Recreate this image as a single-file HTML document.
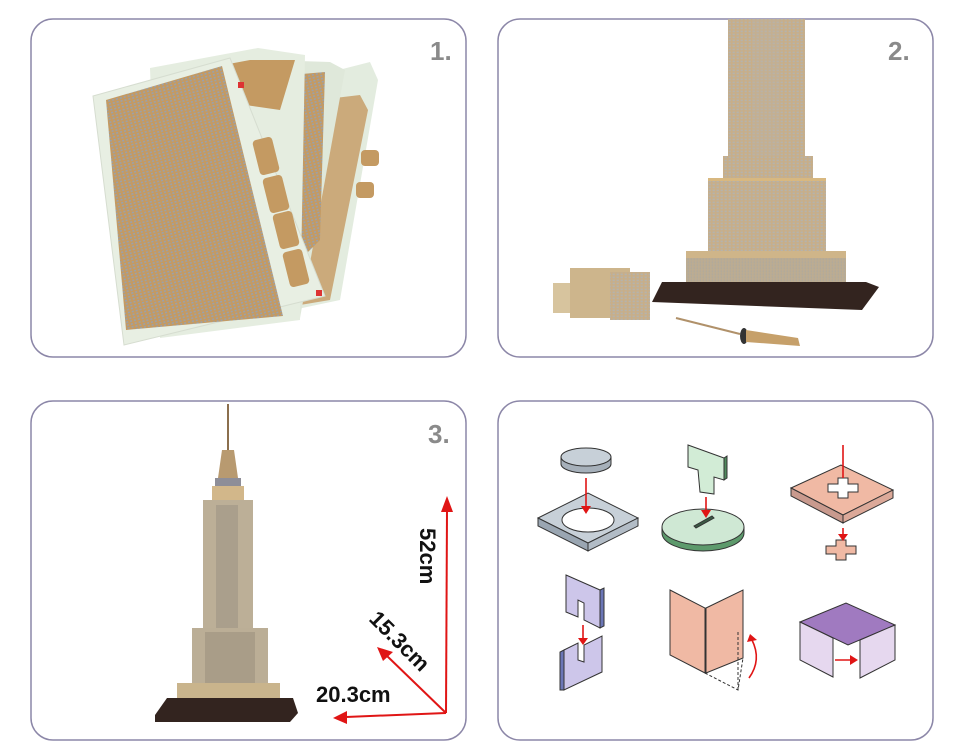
<!DOCTYPE html>
<html><head><meta charset="utf-8"><style>
html,body{margin:0;padding:0;background:#fff;}
svg{display:block;}
text{font-family:"Liberation Sans",sans-serif;font-weight:bold;}
</style></head><body>
<svg width="956" height="756" viewBox="0 0 956 756" xmlns="http://www.w3.org/2000/svg">
<defs>
<pattern id="win" width="4" height="3" patternUnits="userSpaceOnUse" patternTransform="rotate(-14)">
<rect width="4" height="3" fill="#c49a62"/><rect x="0.5" y="0.5" width="2" height="1.6" fill="#9aa1ab"/>
</pattern>
<pattern id="twr" width="4" height="3" patternUnits="userSpaceOnUse">
<rect width="4" height="3" fill="#c8ae88"/><rect x="0.6" y="0.6" width="2.2" height="1.6" fill="#b5b3ad"/>
</pattern>
<pattern id="twr2" width="3" height="3" patternUnits="userSpaceOnUse">
<rect width="3" height="3" fill="#b9aa92"/><rect x="0.6" y="0.3" width="1.6" height="2.2" fill="#aaa79f"/>
</pattern>
</defs>
<g fill="#fff" stroke="#8c87a8" stroke-width="1.5">
<rect x="31" y="19" width="435" height="338" rx="22"/>
<rect x="498" y="19" width="435" height="338" rx="22"/>
<rect x="31" y="401" width="435" height="339" rx="22"/>
<rect x="498" y="401" width="435" height="339" rx="22"/>
</g>
<text x="430" y="60" font-size="26" fill="#8a8a8a">1.</text>
<text x="888" y="60" font-size="26" fill="#8a8a8a">2.</text>
<text x="428" y="443" font-size="26" fill="#8a8a8a">3.</text>

<!-- panel 1 sheets -->
<polygon points="276,86 370,62 378,80 340,300 255,318" fill="#e3ecdf"/>
<polygon points="318,100 360,95 368,110 330,300 300,305" fill="#c49a62" opacity="0.8"/>
<polygon points="268,60 330,62 345,70 300,318 248,322" fill="#dfe8da"/>
<polygon points="290,75 325,72 320,240 290,270" fill="url(#win)"/>
<polygon points="150,68 258,48 305,55 300,320 160,338" fill="#e5ede0"/>
<polygon points="170,75 250,60 295,60 280,110 175,95" fill="#c49a62"/>
<polygon points="93,96 230,58 325,296 124,345" fill="#e8efe3" stroke="#d6ddd0" stroke-width="1"/>
<polygon points="106,100 222,66 283,316 126,330" fill="url(#win)"/>
<g fill="#c49a62">
<rect x="256" y="138" width="20" height="36" rx="4" transform="rotate(-14 266 156)"/>
<rect x="266" y="176" width="20" height="36" rx="4" transform="rotate(-14 276 194)"/>
<rect x="276" y="212" width="20" height="36" rx="4" transform="rotate(-14 286 230)"/>
<rect x="286" y="250" width="20" height="36" rx="4" transform="rotate(-14 296 268)"/>
<rect x="361" y="150" width="18" height="16" rx="4"/>
<rect x="356" y="182" width="18" height="16" rx="4"/>
</g>
<rect x="238" y="82" width="6" height="6" fill="#d33"/>
<rect x="316" y="290" width="6" height="6" fill="#d33"/>

<!-- panel 2 tower -->
<rect x="728" y="19" width="77" height="140" fill="url(#twr)"/>
<rect x="752" y="19" width="28" height="140" fill="#bdb1a0" opacity="0.35"/>
<rect x="723" y="156" width="90" height="26" fill="url(#twr)"/>
<rect x="708" y="178" width="118" height="78" fill="url(#twr)"/>
<rect x="708" y="178" width="118" height="3" fill="#d8b880"/>
<rect x="686" y="251" width="160" height="40" fill="#cfb589"/>
<rect x="686" y="258" width="160" height="30" fill="url(#twr2)" opacity="0.8"/>
<polygon points="662,282 866,282 879,287 862,310 652,302" fill="#33241f"/>
<rect x="553" y="283" width="30" height="30" fill="#d7c49e"/>
<rect x="570" y="268" width="60" height="50" fill="#cdb58c"/>
<rect x="610" y="272" width="40" height="48" fill="url(#twr)"/>
<line x1="676" y1="318" x2="740" y2="334" stroke="#b0916a" stroke-width="2"/>
<ellipse cx="744" cy="336" rx="4" ry="8" fill="#333"/>
<polygon points="746,330 798,338 800,346 746,342" fill="#c6a06a"/>

<!-- panel 3 tower -->
<line x1="228" y1="404" x2="228" y2="450" stroke="#8b6f4e" stroke-width="2"/>
<polygon points="222,450 234,450 238,478 218,478" fill="#b89a70"/>
<rect x="215" y="478" width="26" height="8" fill="#8e8e98"/>
<rect x="212" y="486" width="32" height="16" fill="#d2b78a"/>
<rect x="203" y="500" width="50" height="130" fill="#bcaf97"/>
<rect x="216" y="505" width="22" height="125" fill="#aa9f8c"/>
<rect x="192" y="628" width="76" height="58" fill="#bbae96"/>
<rect x="205" y="632" width="50" height="54" fill="#a99d88"/>
<rect x="177" y="683" width="103" height="20" fill="#c9b48c"/>
<polygon points="167,698 293,698 298,713 290,722 155,722 155,715" fill="#33241f"/>
<!-- arrows -->
<g stroke="#e01515" stroke-width="2" fill="#e01515">
<line x1="446" y1="713" x2="447" y2="510"/>
<polygon points="447,496 441,512 453,512" stroke="none"/>
<line x1="446" y1="713" x2="386" y2="655"/>
<polygon points="377,647 393,652 383,661" stroke="none"/>
<line x1="446" y1="713" x2="346" y2="717"/>
<polygon points="333,718 347,711 347,724" stroke="none"/>
</g>
<text x="0" y="0" font-size="22" fill="#111" transform="translate(420,528) rotate(90)">52cm</text>
<text x="0" y="0" font-size="22" fill="#111" transform="translate(368,620) rotate(45)">15.3cm</text>
<text x="316" y="702" font-size="22" fill="#111">20.3cm</text>

<!-- panel 4 icons -->
<g stroke="#333" stroke-width="1">
<!-- icon1 -->
<path d="M538,518 L588,493 L638,518 L588,543 Z" fill="#c7d0d8"/>
<path d="M538,518 L538,526 L588,551 L588,543 Z" fill="#9aa6b2"/>
<path d="M588,543 L588,551 L638,526 L638,518 Z" fill="#b2bcc6"/>
<ellipse cx="588" cy="520" rx="26" ry="12" fill="#fff"/>
<path d="M561,457 v7 a25,9 0 0 0 50,0 v-7" fill="#a6b0ba"/>
<ellipse cx="586" cy="457" rx="25" ry="9" fill="#c7d0d8"/>
<!-- icon2 -->
<path d="M662,527 v6 a41,18 0 0 0 82,0 v-6" fill="#5d9a6c"/>
<ellipse cx="703" cy="527" rx="41" ry="18" fill="#cfe8d4"/>
<polygon points="694,526 712,516 714,518 696,528" fill="#3a5a44"/>
<polygon points="688,445 724,458 724,480 714,477 714,494 700,492 698,470 688,467" fill="#d2ecd6"/>
<polygon points="724,458 727,456 727,478 724,480" fill="#4f8a5c"/>
<!-- icon3 -->
<path d="M791,488 L841,465 L893,490 L843,515 Z" fill="#f0b9a4"/>
<path d="M791,488 L791,496 L843,523 L843,515 Z" fill="#c99a8e"/>
<path d="M843,515 L843,523 L893,498 L893,490 Z" fill="#dca999"/>
<polygon points="838,478 848,478 848,484 858,484 858,492 848,492 848,498 838,498 838,492 828,492 828,484 838,484" fill="#fff"/>
<polygon points="836,540 846,540 846,546 856,546 856,554 846,554 846,560 836,560 836,554 826,554 826,546 836,546" fill="#f0b9a4"/>
<!-- icon4 -->
<polygon points="566,575 600,590 600,628 584,620 584,603 578,600 578,617 566,612" fill="#cdc6ea"/>
<polygon points="600,590 604,588 604,626 600,628" fill="#6b76b6"/>
<polygon points="564,650 578,643 578,660 584,662 584,645 602,636 602,672 564,690" fill="#cdc6ea"/>
<polygon points="564,650 560,652 560,690 564,690" fill="#6b76b6"/>
<!-- icon5 -->
<polygon points="670,590 705,608 705,673 670,655" fill="#f0b9a4"/>
<polygon points="706,608 743,590 743,658 706,673" fill="#f0b9a4"/>
<path d="M705,673 L738,690 L743,658 M738,690 L738,632" fill="none" stroke-dasharray="3,2"/>
<!-- icon6 -->
<polygon points="800,622 846,603 895,625 848,645" fill="#a07ac0"/>
<polygon points="800,622 833,638 833,677 800,660" fill="#e6d8ef"/>
<polygon points="860,640 895,625 895,660 860,678" fill="#e6d8ef"/>
</g>
<g stroke="#e01515" stroke-width="1.6" fill="#e01515">
<line x1="586" y1="478" x2="586" y2="508"/><polygon points="581,506 591,506 586,514" stroke="none"/>
<line x1="706" y1="497" x2="706" y2="512"/><polygon points="701,510 711,510 706,518" stroke="none"/>
<line x1="843" y1="445" x2="843" y2="478"/>
<line x1="843" y1="528" x2="843" y2="536"/><polygon points="838,534 848,534 843,541" stroke="none"/>
<line x1="583" y1="625" x2="583" y2="640"/><polygon points="578,638 588,638 583,645" stroke="none"/>
<path d="M749,678 Q762,660 752,640" fill="none"/><polygon points="747,642 757,640 750,634" stroke="none"/>
<line x1="835" y1="660" x2="852" y2="660"/><polygon points="850,655 850,665 858,660" stroke="none"/>
</g>
</svg>
</body></html>
